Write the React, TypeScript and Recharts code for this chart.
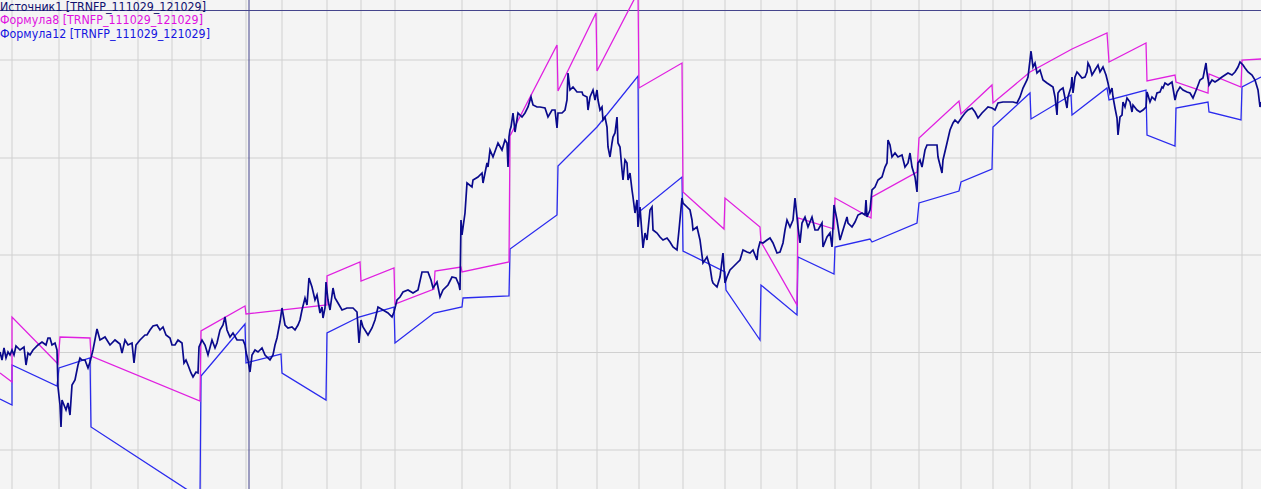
import React from "react";
import { LineChart, Line, XAxis, YAxis, CartesianGrid, ReferenceLine } from "recharts";

// time index (0..1261) vs price level (chart units, 0..489)
const source: [number, number][] = [
  [0, 137], [2, 129], [4, 141], [6, 131], [8, 137], [10, 134], [12, 139], [14, 134], [16, 143], [20, 139],
  [24, 142], [26, 124], [28, 136], [30, 134], [33, 139], [38, 144], [42, 147], [46, 144], [48, 151], [50, 151],
  [52, 144], [55, 146], [57, 139], [58, 102], [60, 84], [61, 62], [62, 89], [64, 84], [66, 79], [68, 86],
  [70, 74], [72, 104], [75, 109], [78, 124], [80, 131], [82, 129], [85, 129], [88, 121], [90, 127], [93, 139],
  [97, 160], [100, 149], [105, 152], [110, 144], [115, 149], [120, 145], [122, 136], [125, 149], [128, 144], [132, 146],
  [134, 126], [136, 144], [140, 149], [145, 154], [147, 154], [150, 159], [153, 163], [157, 164], [160, 159], [163, 162],
  [166, 154], [170, 151], [172, 144], [175, 144], [178, 149], [182, 146], [184, 126], [186, 129], [188, 124], [191, 116],
  [193, 112], [196, 117], [198, 116], [199, 142], [202, 149], [205, 144], [208, 134], [212, 149], [215, 141], [217, 146],
  [220, 159], [223, 164], [225, 172], [227, 159], [230, 152], [233, 156], [237, 149], [240, 149], [243, 149], [245, 144],
  [246, 137], [248, 129], [250, 117], [252, 134], [255, 139], [258, 137], [262, 141], [265, 134], [268, 131], [270, 129],
  [273, 134], [275, 144], [277, 151], [280, 167], [282, 181], [285, 164], [288, 161], [292, 162], [295, 159], [298, 164],
  [300, 169], [302, 179], [305, 191], [307, 184], [309, 211], [312, 202], [315, 189], [317, 194], [320, 176], [322, 182],
  [323, 171], [325, 181], [326, 207], [328, 189], [330, 179], [333, 201], [335, 191], [338, 186], [342, 179], [347, 181],
  [353, 181], [357, 177], [359, 146], [361, 169], [363, 162], [368, 154], [372, 161], [375, 169], [378, 182], [383, 179],
  [388, 176], [392, 172], [394, 177], [397, 189], [400, 192], [403, 197], [408, 199], [413, 196], [418, 199], [422, 217],
  [428, 217], [431, 209], [433, 201], [437, 207], [440, 192], [443, 199], [448, 204], [452, 212], [456, 211], [459, 204],
  [460, 199], [461, 269], [462, 254], [465, 276], [467, 306], [472, 302], [473, 309], [478, 312], [482, 316], [483, 306],
  [487, 326], [488, 322], [490, 339], [493, 332], [498, 346], [502, 339], [505, 349], [507, 346], [508, 322], [509, 352],
  [510, 359], [511, 362], [513, 376], [515, 357], [518, 376], [522, 372], [525, 376], [528, 382], [531, 392], [533, 384],
  [537, 382], [540, 382], [545, 381], [548, 372], [552, 379], [555, 379], [557, 361], [558, 376], [562, 376], [565, 379],
  [567, 389], [568, 416], [570, 399], [573, 402], [577, 397], [582, 397], [583, 394], [587, 392], [588, 379], [590, 392],
  [593, 399], [595, 389], [597, 399], [598, 389], [600, 379], [602, 382], [603, 369], [605, 372], [607, 362], [608, 342],
  [610, 332], [612, 346], [613, 352], [615, 356], [617, 372], [618, 346], [620, 342], [622, 319], [623, 309], [625, 329],
  [627, 326], [628, 309], [630, 316], [632, 299], [633, 292], [635, 276], [637, 289], [638, 262], [640, 282], [643, 241],
  [645, 256], [647, 249], [650, 279], [652, 282], [653, 259], [657, 256], [660, 252], [663, 249], [667, 251], [670, 247],
  [673, 242], [677, 239], [679, 259], [682, 291], [683, 286], [687, 282], [690, 279], [692, 269], [693, 259], [697, 262],
  [700, 249], [703, 226], [707, 232], [710, 222], [712, 209], [713, 206], [717, 202], [720, 212], [723, 236], [725, 206],
  [727, 212], [730, 219], [733, 222], [737, 226], [740, 229], [743, 239], [747, 237], [750, 236], [753, 239], [757, 229],
  [758, 239], [760, 247], [763, 246], [767, 249], [770, 251], [773, 246], [777, 236], [780, 237], [783, 246], [785, 259],
  [787, 269], [790, 262], [793, 269], [795, 291], [797, 272], [798, 262], [800, 246], [802, 266], [805, 272], [808, 262],
  [812, 272], [815, 259], [818, 259], [822, 266], [823, 242], [827, 252], [830, 256], [832, 242], [833, 262], [834, 284],
  [837, 269], [840, 249], [843, 259], [847, 272], [848, 266], [852, 262], [855, 267], [858, 274], [862, 276], [865, 274],
  [866, 289], [867, 272], [870, 279], [872, 299], [875, 302], [878, 309], [882, 312], [885, 322], [887, 326], [888, 349],
  [890, 344], [892, 332], [895, 336], [898, 332], [902, 334], [905, 322], [908, 326], [910, 336], [912, 322], [915, 312],
  [917, 297], [918, 326], [920, 329], [922, 322], [925, 339], [927, 344], [932, 344], [937, 344], [938, 332], [942, 316],
  [943, 329], [947, 346], [950, 359], [953, 366], [955, 369], [958, 366], [962, 372], [965, 376], [968, 379], [972, 381],
  [975, 377], [978, 371], [982, 376], [985, 379], [988, 382], [992, 381], [995, 379], [998, 386], [1003, 387], [1008, 387],
  [1013, 387], [1017, 386], [1020, 392], [1023, 401], [1027, 409], [1028, 412], [1030, 429], [1031, 438], [1033, 422], [1035, 426],
  [1037, 416], [1040, 419], [1043, 409], [1047, 406], [1050, 404], [1053, 402], [1055, 392], [1057, 374], [1058, 396], [1060, 399],
  [1063, 401], [1067, 381], [1068, 392], [1071, 402], [1072, 412], [1073, 396], [1075, 412], [1077, 417], [1078, 416], [1082, 411],
  [1085, 412], [1087, 417], [1088, 426], [1090, 422], [1092, 414], [1095, 419], [1098, 424], [1100, 417], [1103, 422], [1106, 414],
  [1108, 406], [1110, 396], [1112, 401], [1113, 392], [1115, 381], [1117, 371], [1118, 354], [1120, 372], [1122, 374], [1123, 387],
  [1125, 382], [1127, 391], [1130, 387], [1132, 377], [1133, 384], [1137, 379], [1140, 377], [1143, 379], [1146, 382], [1147, 397],
  [1148, 394], [1150, 387], [1152, 392], [1155, 389], [1157, 396], [1160, 397], [1162, 402], [1163, 401], [1165, 406], [1168, 404],
  [1172, 407], [1173, 401], [1175, 389], [1177, 397], [1180, 402], [1183, 399], [1187, 397], [1190, 396], [1193, 391], [1197, 401],
  [1200, 409], [1203, 411], [1206, 426], [1207, 416], [1209, 404], [1212, 409], [1215, 407], [1218, 409], [1222, 412], [1225, 414],
  [1228, 416], [1232, 414], [1235, 417], [1238, 422], [1240, 427], [1243, 424], [1245, 421], [1248, 417], [1252, 414], [1255, 409],
  [1258, 399], [1260, 382], [1261, 387],
];

const formula8: [number, number][] = [
  [0, 116], [12, 107], [12, 172], [58, 125], [60, 152], [90, 151], [91, 133], [200, 88], [201, 158], [245, 183],
  [246, 175], [327, 184], [327, 213], [360, 227], [361, 208], [394, 221], [395, 185], [434, 200], [435, 218], [461, 222],
  [462, 217], [509, 227], [510, 353], [557, 444], [558, 398], [596, 476], [597, 418], [638, 497], [639, 401], [682, 426],
  [683, 297], [724, 260], [725, 291], [760, 262], [761, 247], [797, 184], [798, 271], [834, 260], [835, 291], [871, 271],
  [872, 292], [917, 317], [919, 351], [959, 388], [961, 375], [992, 404], [993, 386], [1030, 417], [1072, 440], [1107, 456],
  [1109, 427], [1146, 446], [1147, 408], [1175, 414], [1176, 407], [1208, 396], [1209, 415], [1241, 402], [1242, 429], [1261, 430],
];

const formula12: [number, number][] = [
  [0, 90], [12, 84], [12, 124], [57, 103], [59, 121], [90, 131], [91, 62], [200, -9], [201, 113], [245, 165],
  [246, 126], [281, 135], [282, 116], [326, 89], [327, 156], [359, 172], [394, 182], [395, 146], [434, 176], [462, 182],
  [463, 191], [509, 193], [510, 240], [557, 274], [558, 323], [597, 362], [638, 413], [639, 277], [682, 312], [683, 238],
  [725, 217], [726, 199], [760, 149], [761, 204], [797, 174], [798, 232], [834, 215], [835, 242], [870, 250], [872, 247],
  [917, 266], [919, 286], [959, 298], [961, 307], [992, 320], [993, 362], [1030, 396], [1031, 370], [1071, 394], [1072, 374],
  [1107, 401], [1109, 389], [1146, 399], [1147, 354], [1175, 343], [1176, 381], [1208, 387], [1209, 377], [1241, 369], [1242, 402],
  [1261, 412],
];

const gridTimes = [12, 59, 91, 138, 172, 201, 246, 282, 327, 361, 395, 435, 462, 510, 557, 597, 639, 683, 725, 761, 797, 835, 871, 919, 961, 993, 1030, 1072, 1109, 1147, 1176, 1208, 1242];
const gridLevels = [39, 136.5, 234, 331, 429];

const cursorTime = 249;
const cursorLevel = 478.5;

const legendItems = [
  { label: "Источник1 [TRNFP_111029_121029]", color: "#10106e", width: 206 },
  { label: "Формула8 [TRNFP_111029_121029]", color: "#e010e0", width: 203 },
  { label: "Формула12 [TRNFP_111029_121029]", color: "#1515e0", width: 210 },
];

const toRows = (pts: [number, number][]) => pts.map(([t, v]) => ({ t, v }));

export default function App() {
  return (
    <div style={{ position: "absolute", left: 0, top: 0, width: 1261, height: 489, background: "#f4f4f4" }}>
      <LineChart width={1261} height={489} margin={{ top: 0, right: 0, bottom: 0, left: 0 }}>
        <CartesianGrid
          stroke="#d0d0d0"
          strokeWidth={1}
          verticalValues={gridTimes}
          horizontalValues={gridLevels}
        />
        <XAxis dataKey="t" type="number" domain={[0, 1261]} hide allowDataOverflow />
        <YAxis type="number" domain={[0, 489]} hide allowDataOverflow />
        <ReferenceLine x={cursorTime} stroke="#45458c" strokeWidth={1} />
        <ReferenceLine y={cursorLevel} stroke="#45458c" strokeWidth={1} />
        <Line
          data={toRows(formula12)}
          dataKey="v"
          stroke="#2a2aee"
          strokeWidth={1.3}
          dot={false}
          type="linear"
          isAnimationActive={false}
        />
        <Line
          data={toRows(formula8)}
          dataKey="v"
          stroke="#e020e0"
          strokeWidth={1.3}
          dot={false}
          type="linear"
          isAnimationActive={false}
        />
        <Line
          data={toRows(source)}
          dataKey="v"
          stroke="#0a0a8c"
          strokeWidth={1.7}
          dot={false}
          type="linear"
          isAnimationActive={false}
        />
      </LineChart>
      <svg width={260} height={42} style={{ position: "absolute", left: 0, top: 0 }}>
        {legendItems.map((item, i) => (
          <text
            key={item.label}
            x={0}
            y={10.5 + i * 13.5}
            fill={item.color}
            fontSize={11.5}
            fontFamily="DejaVu Sans, sans-serif"
            textLength={item.width}
            lengthAdjust="spacingAndGlyphs"
          >
            {item.label}
          </text>
        ))}
      </svg>
    </div>
  );
}
